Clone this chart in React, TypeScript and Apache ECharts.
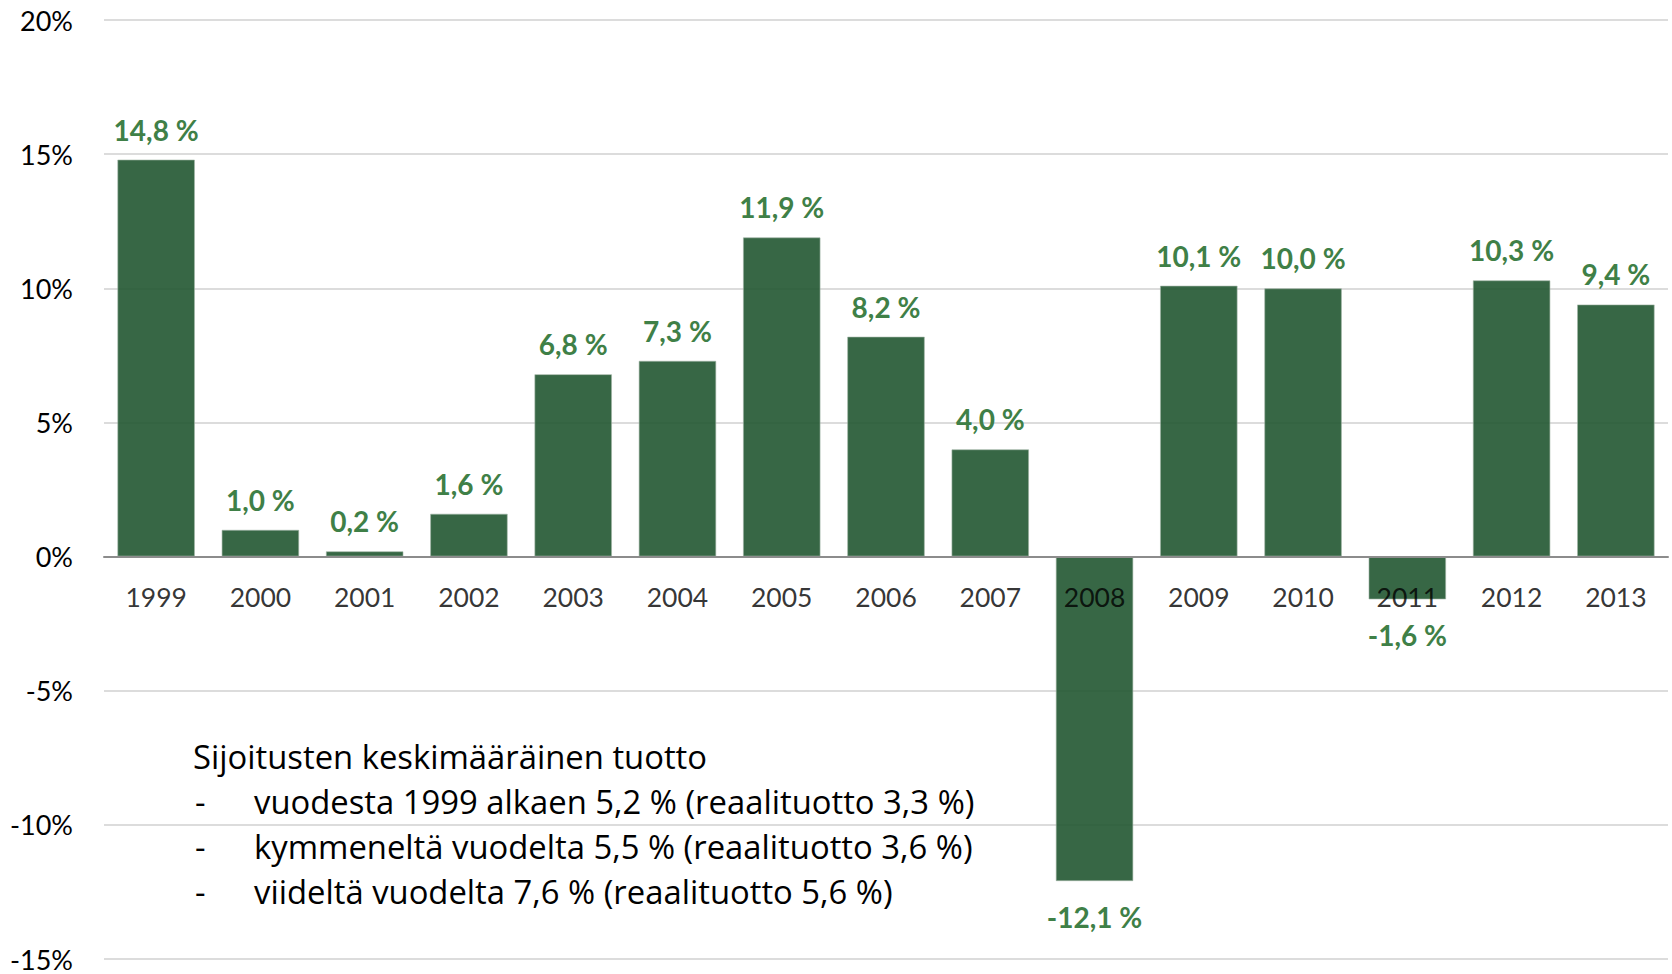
import React, { useEffect, useRef } from "react";
import * as echarts from "echarts";

const years = ["1999", "2000", "2001", "2002", "2003", "2004", "2005", "2006", "2007", "2008", "2009", "2010", "2011", "2012", "2013"];
const returns = [14.8, 1.0, 0.2, 1.6, 6.8, 7.3, 11.9, 8.2, 4.0, -12.1, 10.1, 10.0, -1.6, 10.3, 9.4];
const yMin = -15;
const yMax = 20;
const yStep = 5;
const summaryTitle = "Sijoitusten keskimääräinen tuotto";
const summaryItems = [
  "vuodesta 1999 alkaen 5,2 % (reaalituotto 3,3 %)",
  "kymmeneltä vuodelta 5,5 % (reaalituotto 3,6 %)",
  "viideltä vuodelta 7,6 % (reaalituotto 5,6 %)",
];

const FONT = "Lato, 'Open Sans', sans-serif";
const TEXT_FONT = "'Open Sans', Lato, sans-serif";

export default function App() {
  const ref = useRef<HTMLDivElement>(null);
  useEffect(() => {
    if (!ref.current) return;
    const chart = echarts.init(ref.current, null, { renderer: "svg" });
    const lineY0 = 756;
    const lineGap = 45;
    const blockStyle = { fontFamily: TEXT_FONT, fontSize: 32.8, fill: "#000", textVerticalAlign: "middle" };
    const graphic: any[] = [
      { type: "text", x: 193, y: lineY0, style: { ...blockStyle, text: summaryTitle } },
    ];
    summaryItems.forEach((t, i) => {
      const y = lineY0 + lineGap * (i + 1);
      graphic.push({ type: "text", x: 195, y, style: { ...blockStyle, text: "-" } });
      graphic.push({ type: "text", x: 254, y, style: { ...blockStyle, text: t } });
    });

    chart.setOption({
      animation: false,
      textStyle: { fontFamily: FONT },
      grid: { left: 104, right: 4, top: 20, bottom: 15, outerBoundsMode: "none", containLabel: false },
      xAxis: {
        type: "category",
        data: years,
        axisTick: { show: false },
        axisLine: { onZero: true, lineStyle: { color: "#8c8c8c", width: 2 } },
        axisLabel: { show: false },
        z: 10,
      },
      yAxis: {
        type: "value",
        min: yMin,
        max: yMax,
        interval: yStep,
        axisLine: { show: false },
        axisTick: { show: false },
        axisLabel: { color: "#000", fontSize: 27, margin: 31, fontFamily: FONT, formatter: (v: number) => `${v}%` },
        splitLine: { lineStyle: { color: "#d0d0d0", width: 1.5 } },
      },
      series: [
        {
          type: "bar",
          barCategoryGap: "25.5%",
          data: returns.map((v) => ({
            value: v,
            label: { distance: v < 0 ? 22 : 16 },
          })),
          itemStyle: { color: "rgba(33,87,49,0.9)", borderColor: "rgba(160,180,165,0.6)", borderWidth: 1 },
          label: {
            show: true,
            position: "outside",
            color: "#3F8047",
            fontWeight: "bold",
            fontSize: 28,
            fontFamily: FONT,
            formatter: (p: any) => `${p.value.toFixed(1).replace(".", ",")} %`,
          },
        },
        {
          type: "scatter",
          z: 20,
          symbolSize: 0,
          silent: true,
          data: years.map((y) => [y, 0]),
          label: {
            show: true,
            position: "bottom",
            distance: 27,
            color: "#000",
            fontSize: 26.5,
            fontFamily: FONT,
            formatter: (p: any) => p.name || p.value[0],
          },
        },
      ],
      graphic,
    });
    return () => chart.dispose();
  }, []);
  return <div ref={ref} style={{ position: "fixed", left: 0, top: 0, width: 1672, height: 974, background: "#fff" }} />;
}
